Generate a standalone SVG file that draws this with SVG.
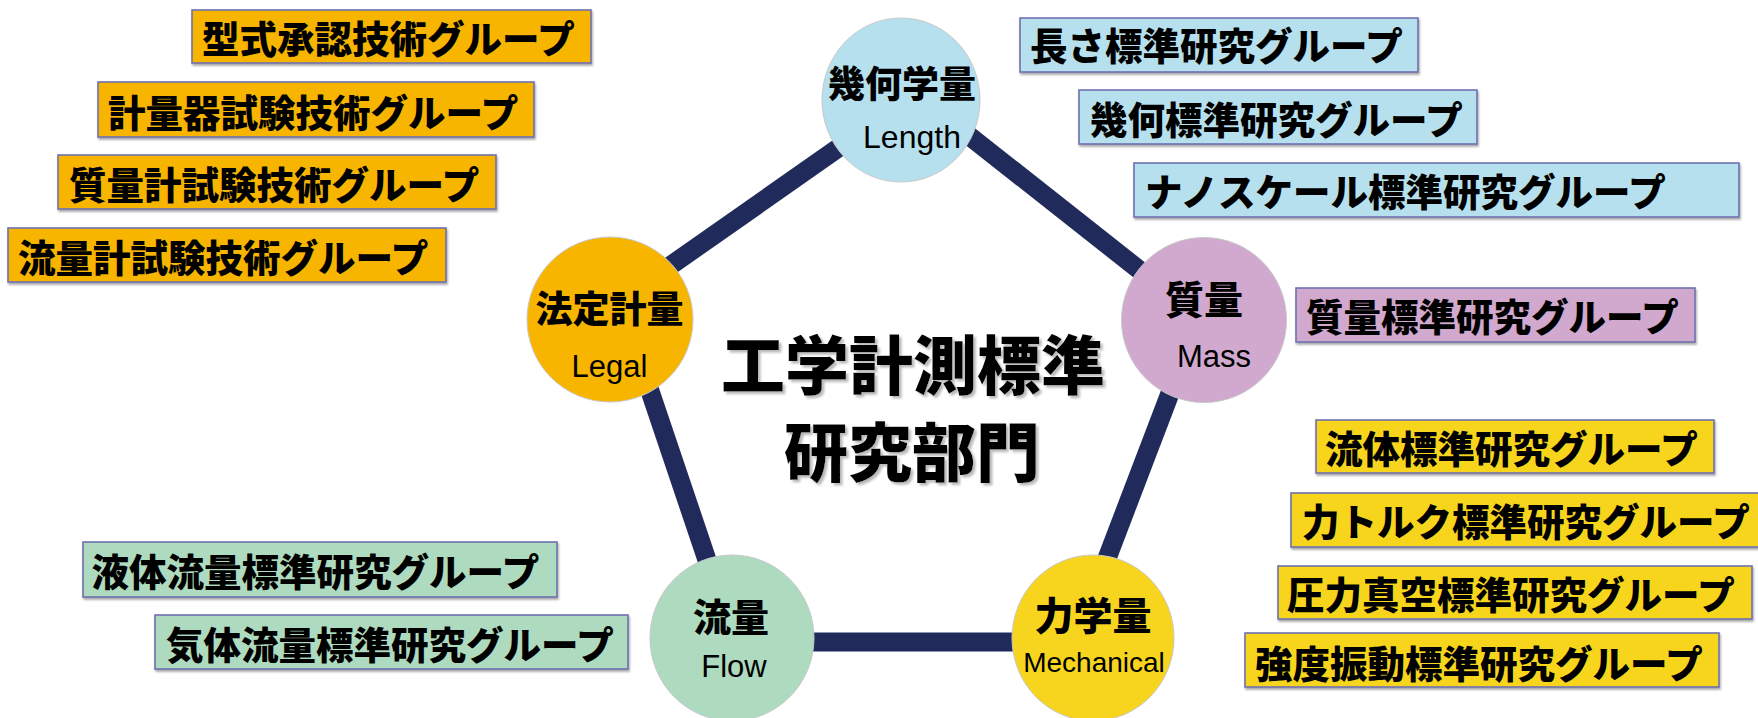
<svg xmlns="http://www.w3.org/2000/svg" width="1758" height="718" viewBox="0 0 1758 718">
<defs>
<filter id="bs" x="-5%" y="-20%" width="110%" height="150%"><feDropShadow dx="1" dy="2" stdDeviation="1.2" flood-color="#000" flood-opacity="0.35"/></filter>
<filter id="ts" x="-5%" y="-10%" width="110%" height="130%"><feDropShadow dx="2.5" dy="2.5" stdDeviation="0.8" flood-color="#b8b8b8" flood-opacity="1"/></filter>
</defs>
<style>
.box{stroke:#6E70B0;stroke-width:1.6;filter:url(#bs)}
.or{fill:#F7B500}.bl{fill:#B6E0EE}.pu{fill:#D1A8CE}.ye{fill:#F7D51E}.gr{fill:#AEDBBF}
.bt{font-family:"Noto Sans CJK JP",sans-serif;font-weight:900;font-size:37.5px;fill:#000}
.ct{font-family:"Noto Sans CJK JP",sans-serif;font-weight:900;fill:#000;text-anchor:middle}
.en{font-family:"Liberation Sans",Arial,sans-serif;font-weight:400;fill:#000;text-anchor:middle}
.circ{stroke:#c8c8c8;stroke-width:1}
.ln{stroke:#202B5C;stroke-width:19;fill:none;stroke-linecap:butt}
.title{font-family:"Noto Sans CJK JP",sans-serif;font-weight:900;font-size:64px;fill:#000;text-anchor:middle;filter:url(#ts)}
</style>
<rect width="1758" height="718" fill="#fff"/>
<g id="connectors">
<line class="ln" x1="610" y1="308" x2="901" y2="104"/>
<line class="ln" x1="901" y1="82" x2="1204" y2="321"/>
<line class="ln" x1="1198" y1="320" x2="1077" y2="637"/>
<line class="ln" x1="732" y1="642" x2="1093" y2="642"/>
<line class="ln" x1="733" y1="637" x2="626" y2="320"/>
</g>
<g id="title">
<text class="title" x="913" y="389">工学計測標準</text>
<text class="title" x="912" y="476">研究部門</text>
</g>
<g id="node-length">
<ellipse class="circ bl" cx="901" cy="100" rx="79" ry="82"/>
<text class="ct" x="902" y="97.5" font-size="37">幾何学量</text>
<text class="en" x="912" y="148" font-size="32">Length</text>
</g>
<g id="node-mass">
<ellipse class="circ pu" cx="1204" cy="320" rx="82.5" ry="82.5"/>
<text class="ct" x="1204" y="313.5" font-size="39">質量</text>
<text class="en" x="1214" y="367" font-size="31">Mass</text>
</g>
<g id="node-mechanical">
<ellipse class="circ ye" cx="1093" cy="638" rx="81" ry="83"/>
<text class="ct" x="1093" y="630" font-size="39">力学量</text>
<text class="en" x="1094" y="672" font-size="28">Mechanical</text>
</g>
<g id="node-flow">
<ellipse class="circ gr" cx="732" cy="638" rx="82" ry="83"/>
<text class="ct" x="731" y="630.5" font-size="38">流量</text>
<text class="en" x="734" y="677" font-size="31">Flow</text>
</g>
<g id="node-legal">
<ellipse class="circ or" cx="610" cy="319.5" rx="83" ry="82.5"/>
<text class="ct" x="609.5" y="322.5" font-size="37">法定計量</text>
<text class="en" x="609.5" y="377" font-size="31">Legal</text>
</g>
<g id="group-katashiki">
<rect class="box or" x="192" y="10" width="399" height="53"/>
<text class="bt" x="202" y="53">型式承認技術グループ</text>
</g>
<g id="group-keiryoki">
<rect class="box or" x="98" y="82" width="436" height="55"/>
<text class="bt" x="108" y="126.5">計量器試験技術グループ</text>
</g>
<g id="group-shitsuryokei">
<rect class="box or" x="58" y="155" width="438" height="54"/>
<text class="bt" x="69" y="199">質量計試験技術グループ</text>
</g>
<g id="group-ryuryokei">
<rect class="box or" x="8" y="228" width="438" height="54"/>
<text class="bt" x="18" y="272">流量計試験技術グループ</text>
</g>
<g id="group-nagasa">
<rect class="box bl" x="1020" y="18" width="398" height="54"/>
<text class="bt" x="1030" y="59.5">長さ標準研究グループ</text>
</g>
<g id="group-kika">
<rect class="box bl" x="1079" y="90" width="398" height="54"/>
<text class="bt" x="1090" y="133.5">幾何標準研究グループ</text>
</g>
<g id="group-nano">
<rect class="box bl" x="1134" y="163" width="605" height="54"/>
<text class="bt" x="1145" y="206">ナノスケール標準研究グループ</text>
</g>
<g id="group-shitsuryo">
<rect class="box pu" x="1296" y="288" width="399" height="54"/>
<text class="bt" x="1306" y="330.5">質量標準研究グループ</text>
</g>
<g id="group-ryutai">
<rect class="box ye" x="1316" y="420" width="398" height="53"/>
<text class="bt" x="1325" y="463">流体標準研究グループ</text>
</g>
<g id="group-torque">
<rect class="box ye" x="1291" y="493" width="472" height="54"/>
<text class="bt" x="1302" y="536">力トルク標準研究グループ</text>
</g>
<g id="group-atsuryoku">
<rect class="box ye" x="1278" y="566" width="474" height="53"/>
<text class="bt" x="1287" y="609">圧力真空標準研究グループ</text>
</g>
<g id="group-kyodo">
<rect class="box ye" x="1245" y="633" width="474" height="54"/>
<text class="bt" x="1255" y="678">強度振動標準研究グループ</text>
</g>
<g id="group-ekitai">
<rect class="box gr" x="83" y="542" width="474" height="55"/>
<text class="bt" x="91.5" y="586">液体流量標準研究グループ</text>
</g>
<g id="group-kitai">
<rect class="box gr" x="155" y="615" width="473" height="54"/>
<text class="bt" x="166" y="659">気体流量標準研究グループ</text>
</g>
</svg>
